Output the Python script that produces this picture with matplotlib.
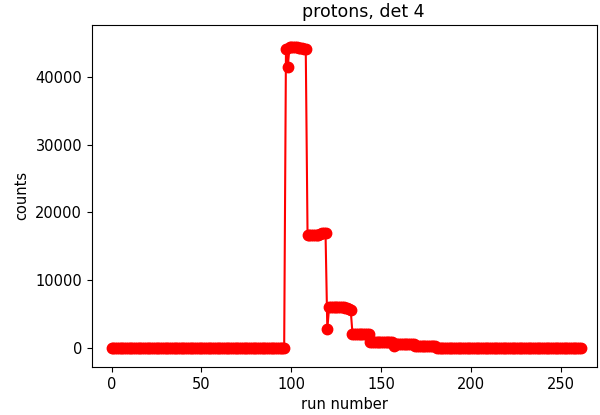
import matplotlib
matplotlib.use('Agg')
import matplotlib.pyplot as plt

# counts per run (runs 0..261)
counts = [
    0, 0, 0, 0, 0, 0, 0, 0, 0, 0, 0, 0, 0, 0, 0, 0, 0, 0, 0, 0,
    0, 0, 0, 0, 0, 0, 0, 0, 0, 0, 0, 0, 0, 0, 0, 0, 0, 0, 0, 0,
    0, 0, 0, 0, 0, 0, 0, 0, 0, 0, 0, 0, 0, 0, 0, 0, 0, 0, 0, 0,
    0, 0, 0, 0, 0, 0, 0, 0, 0, 0, 0, 0, 0, 0, 0, 0, 0, 0, 0, 0,
    0, 0, 0, 0, 0, 0, 0, 0, 0, 0, 0, 0, 0, 0, 0, 0, 0,
    44200, 41500, 44500, 44500, 44400, 44400, 44400, 44300, 44300, 44300,
    44200, 44200,
    16700, 16700, 16700, 16700, 16700, 16700, 16700, 16800, 16900, 17000,
    17000,
    2800,
    6000, 6100, 6100, 6100, 6000, 6000, 6000, 6000, 6000, 5900,
    5900, 5800, 5600,
    2100, 2100, 2100, 2100, 2100, 2100, 2100, 2100, 2100, 2100,
    900, 900, 900, 900, 900, 900, 900, 900, 900, 900, 900, 900, 900,
    300,
    600, 600, 600, 600, 600, 600, 600, 600, 600, 600, 600,
    350, 350, 350, 350, 350, 350, 350, 350, 350, 350, 350, 350,
    0, 0, 0, 0, 0, 0, 0, 0, 0, 0, 0, 0, 0, 0, 0, 0, 0, 0, 0, 0,
    0, 0, 0, 0, 0, 0, 0, 0, 0, 0, 0, 0, 0, 0, 0, 0, 0, 0, 0, 0,
    0, 0, 0, 0, 0, 0, 0, 0, 0, 0, 0, 0, 0, 0, 0, 0, 0, 0, 0, 0,
    0, 0, 0, 0, 0, 0, 0, 0, 0, 0, 0, 0, 0, 0, 0, 0, 0, 0, 0, 0,
    0,
]
runs = list(range(len(counts)))

fig = plt.figure(figsize=(6.0, 4.15), dpi=100)
ax = fig.add_axes([0.153, 0.116, 0.842, 0.824])

ax.plot(runs, counts, 'ro-', markersize=7.5, linewidth=1.5)

ax.set_xlim(-11, 270)
ax.set_ylim(-2800, 47700)
ax.tick_params(labelsize=10.5)
ax.set_xlabel('run number', fontsize=10.5)
ax.set_ylabel('counts', fontsize=10.5)
# the title sits a little right of the axes centre in the reference
ax.set_title('protons, det 4', fontsize=12.5, x=0.537)

fig.savefig('out.png', dpi=100)
